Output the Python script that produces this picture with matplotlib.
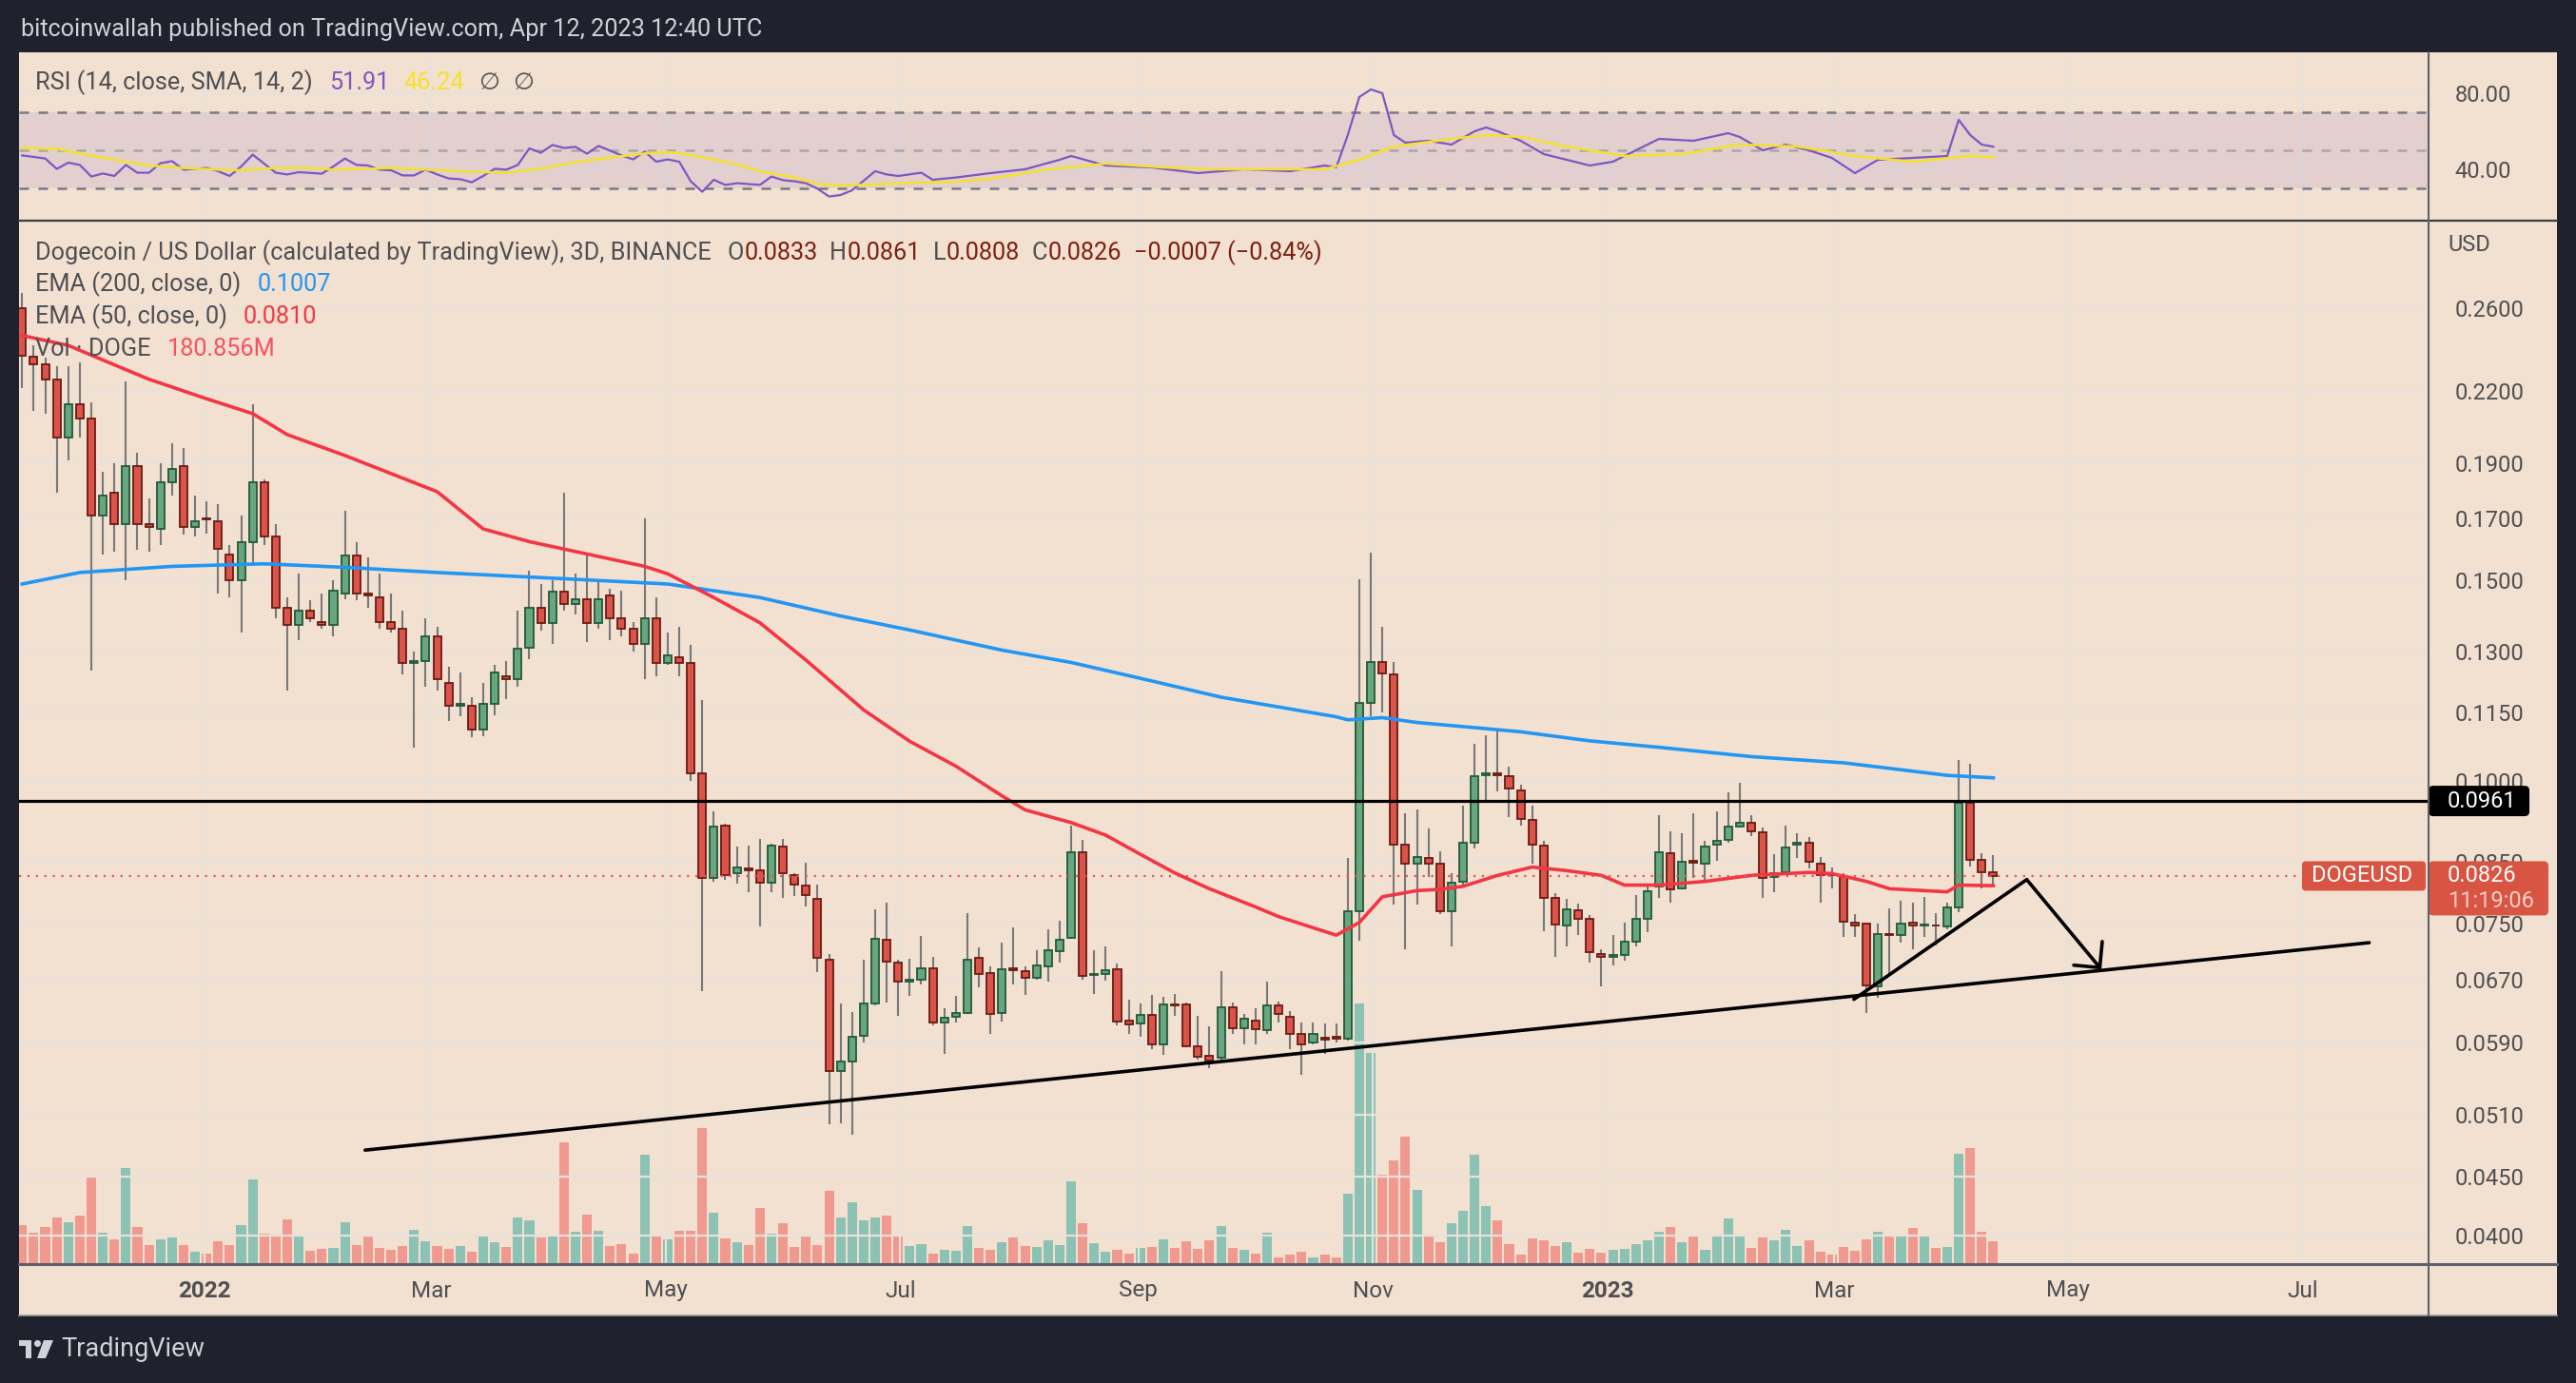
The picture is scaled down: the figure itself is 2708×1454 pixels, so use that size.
import datetime as dt
import matplotlib
matplotlib.use("Agg")
import matplotlib.pyplot as plt
import matplotlib.dates as mdates
import matplotlib.transforms as mtrans
from matplotlib.patches import Rectangle, FancyBboxPatch, Circle, Polygon
from matplotlib.ticker import NullLocator
import numpy as np

plt.rcParams['font.family'] = ['Roboto', 'DejaVu Sans']

# ---------------- data (DOGE/USD, 3D candles, BINANCE) ----------------
first_open = dt.datetime(2021, 11, 13)

opens = [.260, .2355, .232, .225, .200, .214, .208, .171, .179, .168,
         .189, .168, .1665, .183, .189, .167, .170, .169, .158, .150,
         .162, .183, .164, .142, .137, .141, .138, .137, .146, .1576,
         .146, .145, .138, .136, .127, .1275, .134, .122, .1165, .1165,
         .111, .117, .1235, .123, .131, .142, .1376, .1466, .143, .1445,
         .1375, .1455, .139, .136, .132, .139, .127, .1285, .127, .1016,
         .0822, .0915, .0831, .0838, .0835, .0815, .0876, .0827, .0811, .0789,
         .0698, .0557, .0568, .0598, .0639, .0726, .0693, .0667, .0670, .0686,
         .0615, .0622, .0627, .0700, .0679, .0627, .0685, .0682, .0672, .0688,
         .0710, .0729, .0867, .0676, .0678, .0684, .0617, .0613, .0624, .0588,
         .0637, .0637, .0586, .0575, .0572, .0634, .0607, .0617, .0605, .0636,
         .0622, .0600, .0590, .0596, .0597, .0595, .0770, .1172, .1273, .1240,
         .0880, .0847, .0856, .0847, .0770, .0817, .0883, .1012, .1017, .1011,
         .0982, .0925, .0879, .0790, .0748, .0771, .0757, .0706, .0702, .0704,
         .0724, .0757, .0808, .0865, .0806, .0851, .0846, .0880, .0889, .0913,
         .0920, .0902, .0824, .0833, .0880, .0884, .0846, .0829, .0826, .0752,
         .0751, .0661, .0734, .0733, .0752, .0748, .0748, .0746, .0775, .0957,
         .0853, .0833]
highs = [.268, .241, .235, .231, .231, .233, .215, .1868, .190, .224,
         .194, .177, .190, .198, .196, .178, .176, .175, .161, .171,
         .214, .184, .168, .145, .152, .144, .146, .150, .1726, .162,
         .157, .152, .146, .141, .130, .139, .1365, .126, .1245, .1185,
         .122, .1265, .1275, .141, .153, .149, .150, .179, .152, .1576,
         .150, .1475, .147, .138, .170, .145, .135, .1366, .1318, .1177,
         .0942, .0918, .0876, .0878, .0890, .0882, .0890, .0831, .0848, .0812,
         .0705, .0639, .0628, .0698, .0772, .0782, .0698, .0699, .0732, .0701,
         .0632, .0649, .0767, .0715, .0688, .0722, .0745, .0688, .0711, .0742,
         .0755, .0915, .0889, .0711, .0717, .0692, .0644, .0638, .0650, .0647,
         .0651, .0640, .0623, .0610, .0682, .0640, .0625, .0632, .0668, .0641,
         .0629, .0614, .0614, .0613, .0613, .0856, .1502, .1585, .1366, .1272,
         .0937, .0945, .0910, .0868, .0831, .0952, .1078, .1098, .1113, .1029,
         .0993, .0952, .0886, .0798, .0788, .0781, .0763, .0713, .0733, .0752,
         .0795, .0810, .0934, .0904, .0900, .0938, .0887, .0942, .0978, .0997,
         .0934, .0911, .0863, .0915, .0901, .0893, .0858, .0840, .0830, .0765,
         .0751, .0751, .0774, .0786, .0782, .0792, .0767, .0783, .1044, .1035,
         .0865, .0861]
lows = [.221, .211, .210, .179, .191, .200, .125, .158, .159, .150,
        .1595, .159, .161, .178, .1645, .164, .165, .146, .145, .135,
        .155, .161, .139, .120, .133, .138, .136, .134, .1445, .144,
        .142, .136, .135, .124, .107, .121, .120, .113, .114, .1093,
        .1095, .1143, .118, .121, .128, .1356, .132, .1412, .140, .1325,
        .136, .133, .134, .130, .123, .1235, .1265, .1235, .1000, .0655,
        .0817, .082, .0813, .080, .0746, .0800, .0790, .0794, .0777, .0680,
        .0500, .0501, .0490, .0590, .0636, .0640, .0623, .0648, .0664, .0611,
        .0577, .0615, .0625, .0660, .0601, .0616, .0664, .0650, .0670, .0667,
        .0694, .0727, .0670, .0651, .0669, .0611, .0601, .0597, .0582, .0576,
        .0623, .0586, .0570, .0560, .0568, .0600, .0588, .0588, .0601, .0614,
        .0582, .0553, .0588, .0577, .0590, .0592, .0725, .1140, .1150, .0780,
        .0713, .0780, .0825, .0765, .0717, .0807, .0874, .0960, .0980, .0930,
        .0915, .0847, .0739, .0701, .0716, .0733, .0693, .0661, .0690, .0696,
        .0716, .0738, .0790, .0782, .0804, .0822, .0817, .0852, .0884, .0911,
        .0895, .0790, .0800, .0829, .0857, .0838, .0782, .0805, .0730, .0730,
        .0627, .0646, .0675, .0722, .0712, .0730, .0718, .0742, .0768, .0842,
        .0805, .0808]
closes = [.236, .232, .225, .200, .214, .208, .171, .178, .168, .189,
          .168, .167, .183, .188, .167, .169, .1695, .160, .150, .162,
          .183, .164, .142, .137, .141, .139, .137, .147, .1576, .146,
          .1455, .138, .136, .127, .1275, .134, .123, .1165, .117, .111,
          .117, .1245, .123, .1307, .142, .1376, .1466, .143, .1445, .1375,
          .1445, .139, .136, .132, .139, .127, .129, .127, .1016, .0822,
          .0913, .0828, .0840, .0835, .0815, .0878, .0831, .0812, .0795, .0700,
          .0557, .0568, .0597, .0639, .0728, .0695, .0668, .0670, .0686, .0615,
          .0621, .0627, .0697, .0678, .0625, .0684, .0683, .0672, .0689, .0711,
          .0726, .0867, .0675, .0678, .0683, .0616, .0612, .0624, .0588, .0637,
          .0636, .0586, .0574, .0569, .0634, .0608, .0619, .0606, .0636, .0625,
          .0601, .0588, .0600, .0594, .0595, .0770, .1172, .1273, .1242, .0880,
          .0847, .0858, .0847, .0770, .0815, .0883, .1010, .1017, .1012, .0986,
          .0927, .0880, .0791, .0749, .0772, .0758, .0709, .0701, .0704, .0724,
          .0757, .0801, .0866, .0804, .0850, .0849, .0876, .0887, .0912, .0920,
          .0904, .0822, .0831, .0875, .0883, .0850, .0828, .0828, .0753, .0747,
          .0662, .0735, .0733, .0751, .0748, .0749, .0747, .0775, .0957, .0853,
          .0833, .0826]
volumes_m = [304, 245, 289, 368, 328, 382, 686, 245, 196, 755,
             289, 147, 196, 211, 147, 98, 83, 181, 147, 304,
             662, 240, 216, 353, 230, 103, 118, 127, 328, 147,
             230, 123, 113, 142, 270, 181, 142, 118, 142, 98,
             221, 172, 132, 368, 343, 211, 225, 956, 255, 387,
             260, 142, 157, 83, 858, 230, 196, 260, 260, 1068,
             402, 201, 172, 147, 441, 240, 323, 132, 230, 147,
             573, 368, 485, 343, 368, 382, 225, 142, 157, 83,
             113, 103, 299, 127, 113, 172, 211, 142, 132, 186,
             147, 647, 323, 167, 98, 113, 83, 127, 132, 196,
             127, 181, 118, 186, 299, 127, 113, 83, 245, 54,
             74, 98, 54, 74, 49, 549, 2043, 1651, 701, 809,
             1000, 578, 221, 172, 319, 417, 858, 456, 343, 157,
             74, 201, 186, 142, 172, 88, 118, 88, 113, 118,
             157, 186, 255, 289, 172, 221, 113, 230, 358, 230,
             127, 211, 186, 270, 142, 186, 98, 74, 132, 103,
             196, 255, 216, 230, 284, 225, 127, 132, 867, 911,
             255, 180.856]

# moving averages, sampled at candle numbers (1 = first candle)
ema200_at = [1, 6, 14, 22, 29, 37, 48, 57, 65, 72, 78, 86, 92, 98, 105, 115,
             116, 119, 122, 128, 131, 137, 143, 151, 159, 168, 172]
ema200 = [.1489, .1524, .1543, .1551, .1540, .1524, .1505, .1489, .1449, .1396,
          .1357, .1303, .1271, .1231, .1185, .1139, .1132, .1137, .1126, .1112,
          .1105, .1085, .1071, .1051, .1038, .1012, .1007]
ema50_at = [1, 5, 8, 12, 17, 21, 24, 29, 37, 41, 45, 50, 55, 57, 61, 65, 69, 74,
            78, 82, 86, 88, 92, 95, 98, 101, 104, 108, 110, 115, 117, 119, 122,
            124, 126, 129, 132, 135, 138, 140, 143, 147, 151, 156, 158, 161, 163,
            168, 169, 172]
ema50 = [.2459, .2410, .2340, .2251, .2164, .2100, .2013, .1930, .1794, .1664,
         .1622, .1582, .1543, .1520, .1449, .1377, .1277, .1155, .1084, .1031,
         .0971, .0944, .0920, .0897, .0863, .0831, .0805, .0776, .0761, .0733,
         .0752, .0792, .0802, .0804, .0809, .0827, .0841, .0835, .0827, .0811,
         .0811, .0817, .0827, .0832, .0830, .0817, .0805, .0800, .0811, .0810]

rsi_at = [1, 3, 4, 5, 6, 7, 8, 9, 10, 11, 12, 13, 14, 15, 17, 18, 19, 20, 21, 23,
          24, 25, 27, 28, 29, 30, 31, 32, 33, 34, 35, 36, 37, 38, 39, 40, 41, 42, 43, 44,
          45, 46, 47, 48, 49, 50, 51, 52, 53, 54, 55, 56, 57, 58, 59, 60, 61, 62, 63, 65,
          66, 67, 68, 69, 70, 71, 72, 73, 75, 76, 77, 79, 80, 82,
          85, 88, 91, 92, 95, 99, 103, 107, 111, 114,
          115, 116, 117, 118, 119, 120, 121, 123, 125, 127,
          128, 129, 131, 133, 135, 137, 139, 141, 143, 146,
          149, 150, 152, 154, 156, 158, 160, 162, 165, 168,
          169, 170, 171, 172]
rsi = [47.3, 45.7, 40.2, 43.5, 42.3, 36.2, 37.8, 36.5, 42.3, 38.2,
       38.2, 43.2, 44.3, 39.8, 40.7, 39.0, 36.5, 41.5, 47.7, 38.2,
       37.3, 38.5, 37.7, 41.5, 45.7, 42.3, 42.0, 39.8, 39.5, 36.8,
       36.8, 39.8, 37.3, 35.2, 34.8, 33.2, 36.5, 40.3, 39.8, 42.3,
       51.0, 48.7, 52.8, 51.2, 51.8, 48.2, 52.3, 49.8, 47.3, 45.2,
       49.3, 44.0, 45.2, 44.0, 33.7, 28.2, 34.5, 31.8, 32.7, 31.8,
       36.2, 34.3, 33.7, 32.7, 29.8, 25.7, 26.5, 29.0, 39.0, 37.3,
       36.5, 38.2, 34.5, 35.7,
       38, 40, 45, 47, 42, 41, 38, 40, 39, 42,
       41, 58, 78, 82, 80, 58, 54, 55, 53, 60,
       62, 60, 55, 48, 45, 42, 44, 50, 56, 55,
       59, 57, 50, 53, 50, 46, 38, 45, 46, 47,
       66, 58, 53, 51.91]
rsi_sma_at = [1, 4, 7, 10, 12, 15, 18, 20, 23, 26, 28, 31, 33, 36, 39, 41, 43, 46,
              49, 52, 55, 57, 58, 62, 65, 68, 70, 72, 76, 78, 82, 85, 90, 95, 100,
              105, 110, 114, 117, 120, 125, 128, 131, 135, 140, 145, 150, 155, 160,
              165, 170, 172]
rsi_sma = [51.2, 50.7, 47.3, 44, 42, 40.7, 39.8, 39.5, 40.7, 40.7,
           39.8, 40.2, 40.7, 39.8, 39, 38.5, 38.2, 40.3, 43.7, 46.2,
           48.3, 49, 48.5, 44, 39, 35.7, 32.3, 31.5, 32.3, 32.8,
           33.5, 35, 40, 43, 41, 40, 40, 40, 45, 52,
           56, 58, 57, 52, 47, 48, 53, 52, 47, 44,
           47, 46.24]

month_ticks = ['2022-01-01', '2022-03-01', '2022-05-01', '2022-07-01', '2022-09-01',
               '2022-11-01', '2023-01-01', '2023-03-01', '2023-05-01', '2023-07-01']
month_labels = ['2022', 'Mar', 'May', 'Jul', 'Sep', 'Nov', '2023', 'Mar', 'May', 'Jul']
price_ticks = [0.26, 0.22, 0.19, 0.17, 0.15, 0.13, 0.115, 0.10, 0.085, 0.075,
               0.067, 0.059, 0.051, 0.045, 0.040]
rsi_ticks = [40, 80]

resistance = 0.0961
countdown = '11:19:06'
# hand drawn trend lines: (dates, prices)
support_dates, support_prices = ['2022-02-11 18:00', '2023-07-18 08:00'], [0.0475, 0.0722]
rising_dates, rising_prices = ['2023-03-06 05:00', '2023-04-20 05:00'], [0.0644, 0.0820]
arrow_dates, arrow_prices = ['2023-04-20 05:00', '2023-05-09 15:00'], [0.0820, 0.0684]

# ---------------- colours ----------------
DARK = '#1f222c'
BEIGE = '#f2e0d0'
GRID = '#e8e2dd'
TXT = '#4f4f52'
SEP = '#5d606b'
UP, UP_EDGE = '#6aa582', '#1e5b37'
DN, DN_EDGE = '#d9544a', '#6b1a12'
WICK = '#787878'

W, H = 2708, 1454
fig = plt.figure(figsize=(W / 100, H / 100), dpi=100)
fig.patch.set_facecolor(DARK)


def rect(x0, y0, x1, y1):
    return [x0 / W, 1 - y1 / H, (x1 - x0) / W, (y1 - y0) / H]


bg = fig.add_axes([0, 0, 1, 1], zorder=-5)
bg.set_xlim(0, W)
bg.set_ylim(H, 0)
bg.axis('off')
bg.add_patch(Rectangle((20, 55), 2668, 1328, color=BEIGE, lw=0))

ax_rsi = fig.add_axes(rect(20, 55, 2553, 232), zorder=1)
ax_vol = fig.add_axes(rect(20, 232, 2553, 1329), zorder=0)
ax = fig.add_axes(rect(20, 232, 2553, 1329), zorder=1)
for a in (ax_rsi, ax_vol, ax):
    a.patch.set_visible(False)
    for s in a.spines.values():
        s.set_visible(False)

n = len(closes)
t0 = mdates.date2num(first_open)
x = t0 + 3 * np.arange(n) + 1.5


def at(nums):
    return t0 + 3 * (np.asarray(nums) - 1) + 1.5


x_left = t0 + 0.68
x_right = x_left + 627.1
mx = mdates.datestr2num(month_ticks)

o, h, l, c = map(np.array, (opens, highs, lows, closes))
up = c >= o

# volume
ax_vol.bar(x, volumes_m, width=2.5, color=np.where(up, '#26a69a', '#ef5350'), alpha=0.5, lw=0)
ax_vol.set_xlim(x_left, x_right)
ax_vol.set_ylim(0, max(volumes_m) * 4.0)
ax_vol.axis('off')

# price pane
ax.set_yscale('log')
ax.set_xlim(x_left, x_right)
ax.set_ylim(0.03774, 0.310)
ax.set_yticks(price_ticks)
ax.set_yticklabels([f'{p:.4f}' for p in price_ticks])
ax.yaxis.set_minor_locator(NullLocator())
ax.yaxis.tick_right()
ax.tick_params(axis='y', length=0, pad=20, labelsize=17, labelcolor=TXT)
ax.set_xticks(mx)
ax.set_xticklabels([])
ax.tick_params(axis='x', length=0)
ax.grid(True, color=GRID, lw=1.6)
ax.set_axisbelow(True)

ax.vlines(x, l, h, color=WICK, lw=1.5, zorder=2)
ax.bar(x, np.abs(c - o), bottom=np.minimum(o, c), width=2.0,
       color=np.where(up, UP, DN), edgecolor=np.where(up, UP_EDGE, DN_EDGE),
       linewidth=1.3, zorder=3)
ax.plot(at(ema200_at), ema200, color='#2196f3', lw=2.6, zorder=4)
ax.plot(at(ema50_at), ema50, color='#f23645', lw=2.6, zorder=4)

ax.axhline(resistance, color='black', lw=2.3, zorder=5)
ax.axhline(closes[-1], xmax=(2420 - 20) / 2533, color='#ef5350', lw=1.6,
           ls=(0, (1, 3)), zorder=5)
ax.plot(mdates.datestr2num(support_dates), support_prices, color='black', lw=2.6,
        solid_capstyle='round', zorder=5)
ax.plot(mdates.datestr2num(rising_dates), rising_prices, color='black', lw=2.6,
        solid_capstyle='round', zorder=5)
ad = mdates.datestr2num(arrow_dates)
ax.annotate('', xy=(ad[1], arrow_prices[1]), xytext=(ad[0], arrow_prices[0]),
            arrowprops=dict(arrowstyle='->,head_length=1.4,head_width=1.4',
                            color='black', lw=2.6, shrinkA=0, shrinkB=0), zorder=5)

# time axis labels
tr = mtrans.blended_transform_factory(ax.transData, ax.transAxes)
for xm, lab in zip(mx, month_labels):
    ax.text(xm, -28 / 1097, lab, transform=tr, ha='center', va='center', fontsize=17.5,
            color=TXT, fontweight='bold' if lab.isdigit() else 'normal', clip_on=False)

# RSI pane
ax_rsi.set_xlim(x_left, x_right)
ax_rsi.set_ylim(13, 101.5)
ax_rsi.axhspan(30, 70, color='#7e57c2', alpha=0.12, lw=0)
for v, al in ((70, 1.0), (50, 0.5), (30, 1.0)):
    ax_rsi.axhline(v, color='#787b86', alpha=al, lw=1.8, ls=(0, (4, 4)))
ax_rsi.set_yticks(rsi_ticks)
ax_rsi.set_yticklabels([f'{v:.2f}' for v in rsi_ticks])
ax_rsi.yaxis.tick_right()
ax_rsi.tick_params(axis='y', length=0, pad=20, labelsize=17, labelcolor=TXT)
ax_rsi.set_xticks(mx)
ax_rsi.set_xticklabels([])
ax_rsi.tick_params(axis='x', length=0)
ax_rsi.grid(True, color=GRID, lw=1.6)
ax_rsi.set_axisbelow(True)
ax_rsi.plot(at(rsi_at), rsi, color='#7e57c2', lw=1.6)
ax_rsi.plot(at(rsi_sma_at), rsi_sma, color='#f5e12c', lw=1.8)

# ---------------- overlay in pixel coordinates ----------------
ov = fig.add_axes([0, 0, 1, 1], zorder=10)
ov.set_xlim(0, W)
ov.set_ylim(H, 0)
ov.axis('off')
ov.patch.set_visible(False)

ov.plot([20, 2688], [232, 232], color='#3a3d46', lw=1.6)
ov.plot([20, 2688], [1329, 1329], color=SEP, lw=2.2)
ov.plot([20, 2688], [1383, 1383], color='#9a9a9a', lw=1.2)
ov.plot([2553, 2553], [55, 1383], color=SEP, lw=1.5)

ov.text(22, 31, 'bitcoinwallah published on TradingView.com, Apr 12, 2023 12:40 UTC',
        color='#cfd2d9', fontsize=18.2, va='center', ha='left')
ov.text(2573, 258, 'USD', color=TXT, fontsize=17, va='center', ha='left')

renderer = fig.canvas.get_renderer()


def put_row(x0, y0, pieces, size=18.2):
    xx = x0
    for txt, col, gap in pieces:
        t = ov.text(xx, y0, txt, color=col, fontsize=size, va='center', ha='left')
        xx += t.get_window_extent(renderer).width + gap


VAL = '#7d1f14'
chg = closes[-1] - closes[-2]
put_row(37, 87, [('RSI (14, close, SMA, 14, 2)', TXT, 17),
                 (f'{rsi[-1]:.2f}', '#7e57c2', 15),
                 (f'{rsi_sma[-1]:.2f}', '#f5e12c', 15),
                 ('\u2205', TXT, 14), ('\u2205', TXT, 0)])
put_row(37, 266, [('Dogecoin / US Dollar (calculated by TradingView), 3D, BINANCE', TXT, 17),
                  ('O', TXT, 0), (f'{opens[-1]:.4f}', VAL, 13),
                  ('H', TXT, 0), (f'{highs[-1]:.4f}', VAL, 13),
                  ('L', TXT, 0), (f'{lows[-1]:.4f}', VAL, 13),
                  ('C', TXT, 0), (f'{closes[-1]:.4f}', VAL, 13),
                  (f'\u2212{abs(chg):.4f} (\u2212{abs(chg) / closes[-2] * 100:.2f}%)', VAL, 0)])
put_row(37, 299, [('EMA (200, close, 0)', TXT, 17), (f'{ema200[-1]:.4f}', '#2196f3', 0)])
put_row(37, 333, [('EMA (50, close, 0)', TXT, 17), (f'{ema50[-1]:.4f}', '#f23645', 0)])
put_row(37, 367, [('Vol \u00b7 DOGE', TXT, 17), (f'{volumes_m[-1]:.3f}M', '#f7525f', 0)])


def ypix(price):
    return H - ax.transData.transform((x_left, price))[1]


yr = ypix(resistance)
ov.add_patch(FancyBboxPatch((2553, yr - 16), 106, 32, boxstyle='round,pad=0,rounding_size=5',
                            fc='black', ec='none'))
ov.text(2573, yr, f'{resistance:.4f}', color='white', fontsize=17, va='center', ha='left')

yc = ypix(closes[-1])
RED_TAG = '#d85443'
ov.add_patch(FancyBboxPatch((2420, yc - 15.5), 130, 31, boxstyle='round,pad=0,rounding_size=4',
                            fc=RED_TAG, ec='none'))
ov.text(2430, yc, 'DOGEUSD', color='white', fontsize=17, va='center', ha='left')
ov.add_patch(FancyBboxPatch((2553, yc - 15.5), 126, 57, boxstyle='round,pad=0,rounding_size=5',
                            fc=RED_TAG, ec='none'))
ov.text(2573, yc, f'{closes[-1]:.4f}', color='white', fontsize=17, va='center', ha='left')
ov.text(2573, yc + 27, countdown, color='#f6cdc6', fontsize=17, va='center', ha='left')

# footer logo
LOGO = '#cfd2d9'
ov.add_patch(Rectangle((20, 1409), 13, 6, color=LOGO, lw=0))
ov.add_patch(Rectangle((27, 1409), 6, 19, color=LOGO, lw=0))
ov.add_patch(Circle((39.5, 1412.5), 3.5, color=LOGO, lw=0))
ov.add_patch(Polygon([(46, 1409), (56, 1409), (48, 1428), (39, 1428)], closed=True,
                     color=LOGO, lw=0))
ov.text(64, 1419, 'TradingView', color=LOGO, fontsize=19.5, va='center', ha='left')

fig.savefig('out.png', dpi=100, facecolor=fig.get_facecolor())
